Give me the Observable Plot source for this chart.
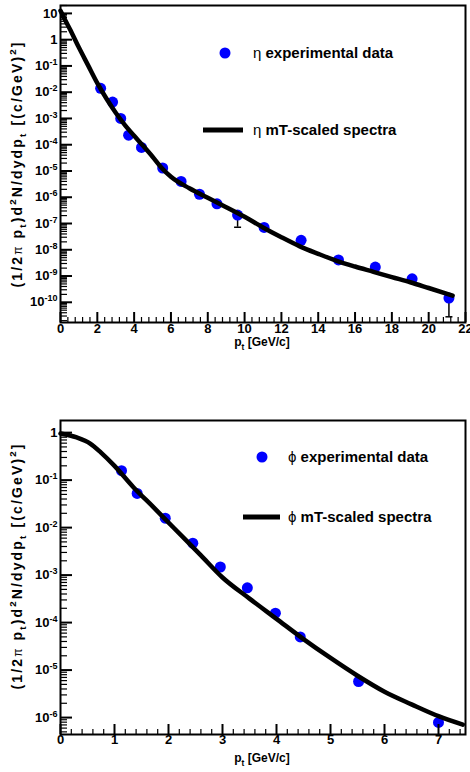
<!DOCTYPE html>
<html><head><meta charset="utf-8">
<script src="https://cdn.jsdelivr.net/npm/d3@7"></script>
<script src="https://cdn.jsdelivr.net/npm/@observablehq/plot@0.6"></script>
<style>
html,body{margin:0;padding:0;background:#fff;}
#wrap{position:relative;width:470px;height:772px;overflow:hidden;font-family:"Liberation Sans",Arial,sans-serif;}
#top,#bot{position:absolute;left:0;}
#top{top:0px}
#bot{top:400px}
</style></head>
<body><div id="wrap"><div id="top"></div><div id="bot"></div></div>
<script>
// ---- eta panel data ----
const etaPt    = [2.18, 2.83, 3.27, 3.7, 4.4, 5.55, 6.55, 7.55, 8.5, 9.62, 11.06, 13.07, 15.1, 17.1, 19.1, 21.1];
const etaYield = [1.4e-2, 4.2e-3, 1.0e-3, 2.3e-4, 7.9e-5, 1.3e-5, 4.0e-6, 1.3e-6, 5.6e-7, 2.1e-7, 7.1e-8, 2.3e-8, 4.1e-9, 2.2e-9, 7.8e-10, 1.45e-10];
const etaErrPt  = [9.62, 21.1];
const etaErrY   = [2.1e-7, 1.45e-10];
const etaErrLow = [7.2e-8, 2.8e-11];
const etaCurvePt    = [0, 0.25, 0.5, 1, 1.5, 2, 2.5, 3, 3.5, 4, 4.5, 5, 5.5, 6, 7, 8, 9, 10, 11, 12, 13, 14, 15, 16, 17, 18, 19, 20, 21, 21.3];
const etaCurveYield = [12.6, 5.6, 2.6, 0.5, 0.105, 2.2e-2, 5.6e-3, 1.65e-3, 5.6e-4, 2.2e-4, 8.9e-5, 3.5e-5, 1.3e-5, 6.0e-6, 2.2e-6, 9.5e-7, 4.2e-7, 1.8e-7, 7.1e-8, 3.0e-8, 1.35e-8, 7.0e-9, 3.8e-9, 2.3e-9, 1.45e-9, 9.1e-10, 5.8e-10, 3.5e-10, 2.1e-10, 1.8e-10];
const etaXTicks = [0, 2, 4, 6, 8, 10, 12, 14, 16, 18, 20, 22];
const etaYTicks = [10, 1, 1e-1, 1e-2, 1e-3, 1e-4, 1e-5, 1e-6, 1e-7, 1e-8, 1e-9, 1e-10];

// ---- phi panel data ----
const phiPt    = [1.13, 1.42, 1.94, 2.45, 2.96, 3.46, 3.98, 4.44, 5.52, 7.0];
const phiYield = [0.158, 0.0525, 0.0158, 4.7e-3, 1.48e-3, 5.4e-4, 1.58e-4, 5.0e-5, 5.75e-6, 7.9e-7];
const phiErrPt = [], phiErrY = [], phiErrLow = [];
const phiCurvePt    = [0, 0.3, 0.55, 0.75, 1.0, 1.35, 1.72, 2.1, 2.6, 3.0, 3.5, 4.0, 4.5, 5.0, 5.5, 6.0, 6.5, 7.0, 7.45];
const phiCurveYield = [0.955, 0.79, 0.59, 0.38, 0.2, 7.1e-2, 2.7e-2, 9.8e-3, 2.6e-3, 8.9e-4, 3.2e-4, 1.2e-4, 4.5e-5, 1.8e-5, 7.6e-6, 3.5e-6, 1.9e-6, 1.07e-6, 7.1e-7];
const phiXTicks = [0, 1, 2, 3, 4, 5, 6, 7];
const phiYTicks = [1, 1e-1, 1e-2, 1e-3, 1e-4, 1e-5, 1e-6];

const W = 470;
const FONT = '"Liberation Sans", Arial, sans-serif';
const capSymbol = {draw(ctx, size){const r = Math.sqrt(size/Math.PI); ctx.moveTo(-r,0); ctx.lineTo(r,0);}};
const yLabel = v => {const e = Math.round(Math.log10(v)); return e===0 ? "1" : e===1 ? "10" : "10^" + e;};

function rich(sel, parts, size){
  let cur = 0;
  parts.forEach(([s, kind]) => {
    const target = kind==="sub" ? 0.3*size : kind==="sup" ? -0.4*size : 0;
    const ts = sel.append("tspan").attr("dy", target - cur).text(s);
    if (kind==="sub" || kind==="sup") ts.attr("font-size", size*0.7);
    if (kind==="sym") ts.attr("font-weight", "normal").attr("font-size", size*0.85);
    cur = target;
  });
}

function makePanel(c){
  const H = c.height, mt = c.mt, mb = c.mb, ml = 60, mr = 5;
  const fw = W - ml - mr, fh = H - mt - mb;
  const [y0, y1] = c.yDomain;
  const minorY = [];
  for (let k = Math.floor(Math.log10(y0)); k <= Math.ceil(Math.log10(y1)); k++)
    for (let m = 2; m <= 9; m++){const v = m*Math.pow(10,k); if (v>=y0 && v<=y1) minorY.push(v);}
  const minorX = [];
  const n = Math.round(c.xDomain[1]/c.xMinor);
  for (let i = 0; i <= n; i++){const v = +(i*c.xMinor).toFixed(4); if (v<=c.xDomain[1] && !c.xTicks.some(t=>Math.abs(t-v)<1e-6)) minorX.push(v);}
  const points = c.px.map((x,i)=>({x, y:c.py[i]}));
  const curve = c.cx.map((x,i)=>({x, y:c.cy[i]}));
  const errs = c.ex.map((x,i)=>({x, y:c.ey[i], lo:c.elo[i]}));
  const svg = Plot.plot({
    width: W, height: H, marginLeft: ml, marginRight: mr, marginTop: mt, marginBottom: mb,
    style: {fontFamily: FONT, background: "white", overflow: "visible", color: "black"},
    x: {domain: c.xDomain, axis: null},
    y: {type: "log", domain: c.yDomain, axis: null},
    marks: [
      Plot.ruleX(errs, {x:"x", y1:"y", y2:"lo", stroke:"black", strokeWidth:1.5}),
      Plot.dot(errs, {x:"x", y:"lo", symbol:capSymbol, r:3.5, stroke:"black", strokeWidth:1.5}),
      Plot.dot(points, {x:"x", y:"y", r:5.5, fill:"#0000ff", stroke:"none"}),
      Plot.line(curve, {x:"x", y:"y", stroke:"black", strokeWidth:4.5, curve:"monotone-x"}),
      Plot.tickY(c.yTicks, {y:d=>d, insetRight: fw-12, stroke:"black", strokeWidth:2}),
      Plot.tickY(minorY, {y:d=>d, insetRight: fw-7, stroke:"black", strokeWidth:1.2}),
      Plot.tickX(c.xTicks, {x:d=>d, insetTop: fh-10, stroke:"black", strokeWidth:2}),
      Plot.tickX(minorX, {x:d=>d, insetTop: fh-5, stroke:"black", strokeWidth:1.2}),
      Plot.frame({stroke:"black", strokeWidth:2}),
      Plot.text(c.yTicks, {y:d=>d, frameAnchor:"left", dx:-3, textAnchor:"end", text:yLabel, fontSize:13, fontWeight:"bold"}),
      Plot.text(c.xTicks, {x:d=>d, frameAnchor:"bottom", dy:c.xlabDy, text:d=>String(d), fontSize:13, fontWeight:"bold"})
    ]
  });
  const s = d3.select(svg);
  s.selectAll("text").each(function(){
    const t = this.textContent, i = t.indexOf("^");
    if (i < 0) return;
    this.textContent = t.slice(0, i);
    d3.select(this).append("tspan").attr("dy", -5).attr("font-size", 9).text(t.slice(i+1));
  });
  // y title
  const yt = s.append("text").attr("transform", `translate(22,${c.ytitleY}) rotate(-90)`)
    .attr("text-anchor","middle").attr("font-size",14).attr("font-weight","bold").attr("font-family",FONT)
    .attr("textLength", 245).attr("lengthAdjust","spacing");
  rich(yt, [["(1/2",null],["π","sym"],[" p",null],["t","sub"],[")d",null],["2","sup"],["N/dydp",null],["t","sub"],[" [(c/GeV)",null],["2","sup"],["]",null]], 14);
  // x title
  const xt = s.append("text").attr("x", 262).attr("y", c.xtitleY).attr("text-anchor","middle")
    .attr("font-size",12).attr("font-weight","bold").attr("font-family",FONT);
  rich(xt, [["p",null],["t","sub"],[" [GeV/c]",null]], 12);
  // legend
  const L = c.legend;
  s.append("circle").attr("cx", L.dotX).attr("cy", L.dotY).attr("r", 5.5).attr("fill", "#0000ff");
  s.append("line").attr("x1", L.lineX1).attr("x2", L.lineX2).attr("y1", L.lineY).attr("y2", L.lineY).attr("stroke","black").attr("stroke-width",5);
  [[L.dotY, L.sym + " ", "experimental data"], [L.lineY, L.sym + " ", "mT-scaled spectra"]].forEach(([y, sym, txt]) => {
    const t = s.append("text").attr("x", L.textX).attr("y", y).attr("dy","0.35em").attr("text-anchor","start")
      .attr("font-size",15).attr("font-weight","bold").attr("font-family",FONT);
    t.append("tspan").attr("font-weight","normal").text(sym);
    t.append("tspan").text(txt);
  });
  return svg;
}

document.getElementById("top").append(makePanel({
  height: 350, mt: 5, mb: 28, xDomain: [0, 22], yDomain: [1.7e-11, 20], xMinor: 0.4, xlabDy: 10,
  px: etaPt, py: etaYield, cx: etaCurvePt, cy: etaCurveYield, ex: etaErrPt, ey: etaErrY, elo: etaErrLow,
  xTicks: etaXTicks, yTicks: etaYTicks, ytitleY: 165, xtitleY: 346,
  legend: {sym: "η", dotX: 225, dotY: 53, lineX1: 203, lineX2: 243, lineY: 130, textX: 253}
}));
document.getElementById("bot").append(makePanel({
  height: 372, mt: 20, mb: 38, xDomain: [0, 7.5], yDomain: [4.4e-7, 1.8], xMinor: 0.2, xlabDy: 9,
  px: phiPt, py: phiYield, cx: phiCurvePt, cy: phiCurveYield, ex: phiErrPt, ey: phiErrY, elo: phiErrLow,
  xTicks: phiXTicks, yTicks: phiYTicks, ytitleY: 167, xtitleY: 362,
  legend: {sym: "ϕ", dotX: 262, dotY: 57, lineX1: 243, lineX2: 280, lineY: 117, textX: 288}
}));
</script>
</body></html>
